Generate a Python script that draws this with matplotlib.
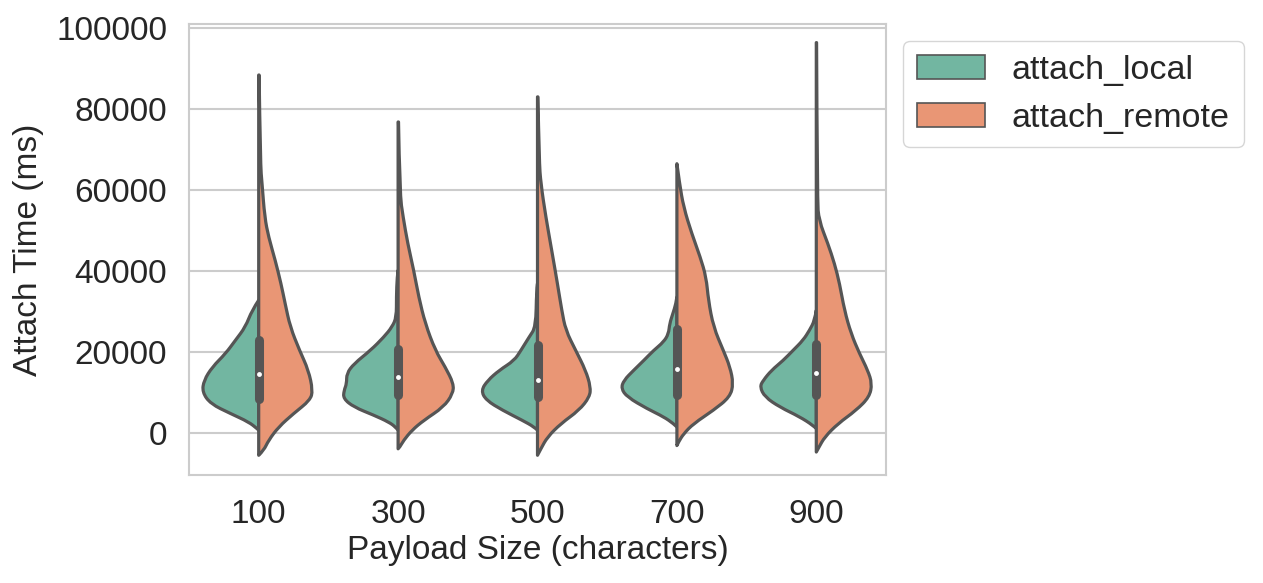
import numpy as np
import matplotlib
matplotlib.use("Agg")
import matplotlib.pyplot as plt
from matplotlib.patches import Patch, PathPatch
from matplotlib.path import Path
import seaborn as sns

# categories on the x axis
categories = ["100", "300", "500", "700", "900"]
hue_names = ["attach_local", "attach_remote"]

# violin outlines: attach time (ms) and half-width (in category units)
local_y = [
    [32800, 30300, 26200, 22900, 19600, 16300, 13000, 10100, 7200, 4800, 2700, 1100, 700],
    [40200, 38500, 33600, 28600, 26200, 23700, 20400, 17100, 14700, 12200, 10500, 8500, 6400, 4400, 2700, 1500, 700],
    [36900, 35200, 26200, 23700, 20400, 17900, 15500, 13000, 10500, 8100, 5600, 3100, 1500, 700],
    [33600, 31900, 29500, 27000, 24500, 22500, 20400, 17900, 15500, 13000, 11000, 8900, 6000, 4000, 2300, 1500],
    [30300, 27800, 25400, 22900, 20400, 17900, 15500, 13000, 11400, 8900, 6400, 4000, 1900, 1100],
]
local_w = [
    [0, .048, .095, .167, .238, .333, .393, .405, .345, .202, .071, .012, 0],
    [0, .007, .012, .012, .043, .102, .198, .317, .369, .369, .388, .393, .317, .174, .067, .019, 0],
    [0, .007, .012, .060, .119, .167, .274, .357, .405, .369, .250, .107, .024, 0],
    [0, .007, .029, .052, .060, .095, .167, .238, .310, .381, .400, .357, .214, .095, .024, 0],
    [0, .012, .048, .095, .167, .238, .321, .381, .405, .369, .262, .119, .024, 0],
]
remote_y = [
    [88400, 66500, 61600, 53300, 48400, 42600, 36900, 31900, 26200, 20400, 15500, 10500, 8100, 4800, 1500, -1800, -4300, -5500],
    [76800, 59100, 53300, 46800, 40200, 33600, 27000, 20400, 16300, 12200, 9700, 6400, 3100, 700, -1800, -3500, -3900],
    [83000, 67300, 61600, 53300, 45100, 36900, 30300, 25400, 20400, 15500, 11400, 8900, 5600, 2300, -1000, -3900, -5500],
    [66500, 61600, 55800, 49200, 43500, 38500, 32800, 26200, 20400, 16300, 12200, 8900, 5600, 2300, -200, -2200, -3100],
    [96400, 57500, 52500, 46800, 41800, 36900, 30300, 24500, 19600, 15500, 12200, 8900, 5600, 2300, -1000, -3500, -4700],
]
remote_w = [
    [.003, .012, .024, .043, .071, .119, .160, .190, .226, .293, .357, .388, .369, .250, .143, .071, .036, 0],
    [.003, .012, .036, .069, .112, .148, .195, .267, .338, .398, .393, .326, .183, .100, .040, .012, 0],
    [.003, .012, .024, .060, .102, .143, .174, .202, .274, .345, .381, .374, .298, .167, .071, .024, 0],
    [0, .019, .048, .107, .167, .210, .226, .262, .333, .381, .405, .381, .262, .119, .048, .012, 0],
    [.002, .007, .019, .083, .131, .167, .202, .250, .310, .369, .400, .381, .286, .155, .060, .019, 0],
]

# inner box: quartiles and medians (combined data)
q1 = [8500, 9300, 8900, 9300, 9300]
q3 = [22900, 20800, 21700, 25800, 22100]
medians = [14500, 13800, 13200, 15700, 14800]

sns.set_style("whitegrid")
plt.rcParams["font.family"] = ["Liberation Sans", "DejaVu Sans"]
plt.rcParams["text.color"] = ".15"
plt.rcParams["axes.labelcolor"] = ".15"
plt.rcParams["xtick.color"] = ".15"
plt.rcParams["ytick.color"] = ".15"

pal = [sns.desaturate(c, 0.75) for c in sns.color_palette("Set2", 2)]
gray = "#555555"


def half_violin(ax, center, ys, ws, side, color):
    # outer edge drawn as a smooth quadratic curve through the read points,
    # then back along the centre line
    xs = [center + side * w for w in ws]
    verts = [(xs[0], ys[0])]
    codes = [Path.MOVETO]
    n = len(ys)
    for k in range(1, n - 1):
        verts.append((xs[k], ys[k]))
        codes.append(Path.CURVE3)
        if k < n - 2:
            verts.append(((xs[k] + xs[k + 1]) / 2, (ys[k] + ys[k + 1]) / 2))
        else:
            verts.append((xs[n - 1], ys[n - 1]))
        codes.append(Path.CURVE3)
    verts.append((center, ys[-1]))
    codes.append(Path.LINETO)
    verts.append((center, ys[0]))
    codes.append(Path.LINETO)
    verts.append((xs[0], ys[0]))
    codes.append(Path.CLOSEPOLY)
    patch = PathPatch(Path(verts, codes), facecolor=color, edgecolor=gray,
                      linewidth=2.3, joinstyle="round", zorder=2)
    ax.add_patch(patch)


fig = plt.figure(figsize=(12.63, 5.83), dpi=100)
ax = fig.add_axes([189 / 1263, (583 - 475) / 583, (886 - 189) / 1263, (475 - 24) / 583])

for i in range(len(categories)):
    half_violin(ax, i, local_y[i], local_w[i], -1, pal[0])
    half_violin(ax, i, remote_y[i], remote_w[i], 1, pal[1])
    # inner box
    ax.plot([i, i], [q1[i], q3[i]], color=gray, linewidth=6.5, solid_capstyle="round", zorder=3)
    ax.plot(i, medians[i], "o", color="white", markersize=3.5, markeredgewidth=0, zorder=4)

ax.set_xlim(-0.5, len(categories) - 0.5)
ax.set_ylim(-10370, 101000)
ax.set_xticks(range(len(categories)))
ax.set_xticklabels(categories)
ax.set_yticks([0, 20000, 40000, 60000, 80000, 100000])
ax.tick_params(axis="both", labelsize=24, length=0)
ax.tick_params(axis="x", pad=17)
ax.tick_params(axis="y", pad=15.8)
ax.grid(axis="y", color=".8", linewidth=1.5)
ax.grid(axis="x", visible=False)
ax.set_axisbelow(True)
for s in ax.spines.values():
    s.set_color(".8")
    s.set_linewidth(1.5)

ax.set_xlabel("Payload Size (characters)", fontsize=24, labelpad=4)
ax.set_ylabel("Attach Time (ms)", fontsize=24, labelpad=9)

handles = [Patch(facecolor=pal[0], edgecolor=gray, linewidth=1.2),
           Patch(facecolor=pal[1], edgecolor=gray, linewidth=1.2)]
leg = ax.legend(handles, hue_names, loc="upper left", bbox_to_anchor=(1.0, 1.0),
                fontsize=24.5, frameon=True)
leg.get_frame().set_edgecolor(".8")

fig.savefig("out.png", dpi=100)
